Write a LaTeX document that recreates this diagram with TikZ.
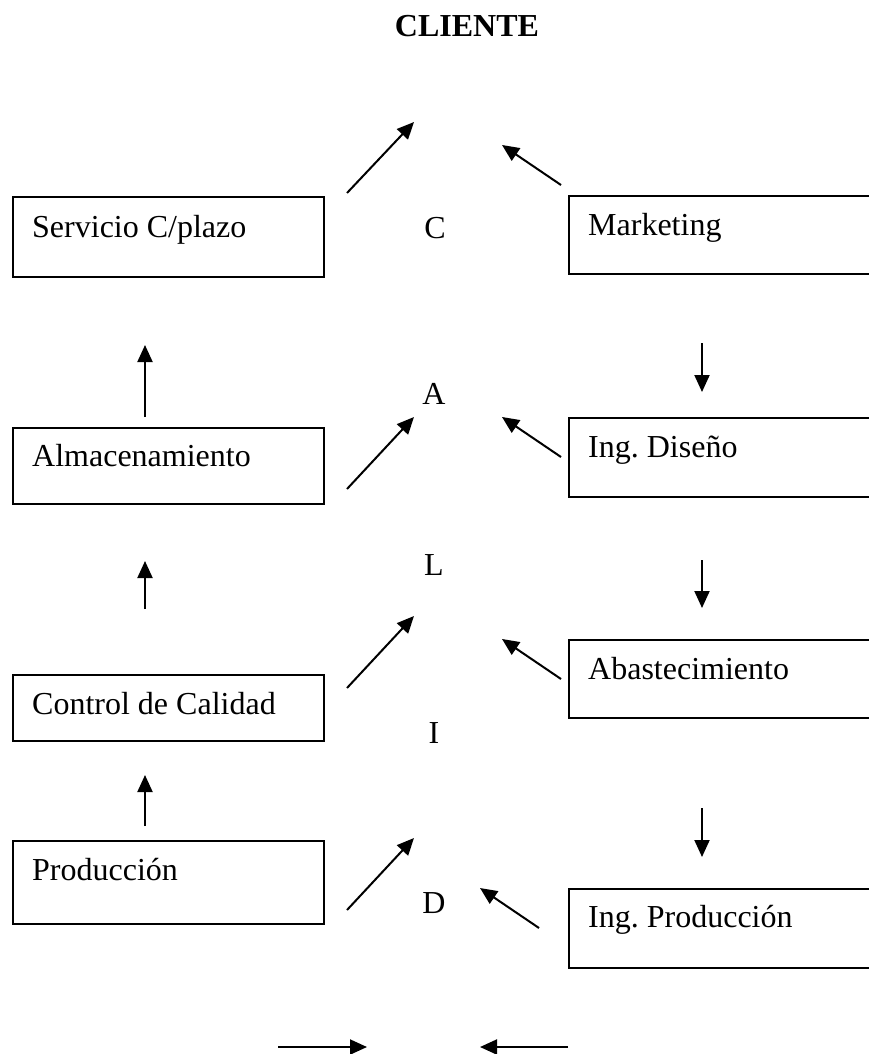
\documentclass[tikz,border=0pt]{standalone}
\usepackage{fontspec}
\setmainfont{Liberation Serif}
\usetikzlibrary{arrows.meta}
\frenchspacing

\begin{document}
\begin{tikzpicture}[x=1pt, y=1pt,
  box/.style={draw, line width=2pt, anchor=north west, minimum width=311pt, inner sep=0pt},
  txt/.style={anchor=base west, inner sep=0pt, font=\LBL},
  letter/.style={inner sep=0pt, font=\LBL},
  arr/.style={line width=2pt, -{Triangle[length=17pt, width=15pt]}}]

  \newcommand\LBL{\fontsize{32}{38}\selectfont}

  \clip (0,0) rectangle (869,-1054);

  \node[letter, font=\LBL\bfseries] (cliente) at (467,-26) {CLIENTE};

  % left column
  \node[box, minimum height=80pt] (serv) at (12,-196) {};
  \node[box, minimum height=76pt] (alm) at (12,-427) {};
  \node[box, minimum height=66pt] (cal) at (12,-674) {};
  \node[box, minimum height=83pt] (prod) at (12,-840) {};
  \node[txt] (servT) at ([shift={(20,-41)}]serv.north west) {Servicio C/plazo};
  \node[txt] (almT) at ([shift={(20,-39)}]alm.north west) {Almacenamiento};
  \node[txt] (calT) at ([shift={(20,-40)}]cal.north west) {Control de Calidad};
  \node[txt] (prodT) at ([shift={(20,-40)}]prod.north west) {Producción};

  % right column
  \node[box, minimum height=78pt] (mkt) at (568,-195) {};
  \node[box, minimum height=79pt] (dis) at (568,-417) {};
  \node[box, minimum height=78pt] (aba) at (568,-639) {};
  \node[box, minimum height=79pt] (ipro) at (568,-888) {};
  \node[txt] (mktT) at ([shift={(20,-40)}]mkt.north west) {Marketing};
  \node[txt] (disT) at ([shift={(20,-40)}]dis.north west) {Ing. Diseño};
  \node[txt] (abaT) at ([shift={(20,-40)}]aba.north west) {Abastecimiento};
  \node[txt] (iproT) at ([shift={(20,-39)}]ipro.north west) {Ing. Producción};

  % CALID
  \node[letter] (c) at (435,-228) {C};
  \node[letter] (a) at (434,-394) {A};
  \node[letter] (l) at (434,-565) {L};
  \node[letter] (i) at (434,-733) {I};
  \node[letter] (d) at (434,-903) {D};

  \draw[arr] ([shift={(22,3)}]serv.north east) -- ++(67,71);
  \draw[arr] ([shift={(22,-62)}]alm.north east) -- ++(67,72);
  \draw[arr] ([shift={(22,-14)}]cal.north east) -- ++(67,72);
  \draw[arr] ([shift={(22,-70)}]prod.north east) -- ++(67,72);

  \draw[arr] ([shift={(-7,10)}]mkt.north west) -- ++(-59,40);
  \draw[arr] ([shift={(-7,-40)}]dis.north west) -- ++(-59,40);
  \draw[arr] ([shift={(-7,-40)}]aba.north west) -- ++(-59,40);
  \draw[arr] ([shift={(-29,-40)}]ipro.north west) -- ++(-59,40);

  \draw[arr] ([shift={(133,10)}]alm.north west) -- ++(0,72);
  \draw[arr] ([shift={(133,65)}]cal.north west) -- ++(0,48);
  \draw[arr] ([shift={(133,14)}]prod.north west) -- ++(0,51);

  \draw[arr] ([shift={(134,74)}]dis.north west) -- ++(0,-49);
  \draw[arr] ([shift={(134,79)}]aba.north west) -- ++(0,-48);
  \draw[arr] ([shift={(134,80)}]ipro.north west) -- ++(0,-49);

  \draw[arr] ([shift={(-156,-144)}]d.center) -- ++(89,0);
  \draw[arr] ([shift={(134,-144)}]d.center) -- ++(-88,0);

\end{tikzpicture}
\end{document}
